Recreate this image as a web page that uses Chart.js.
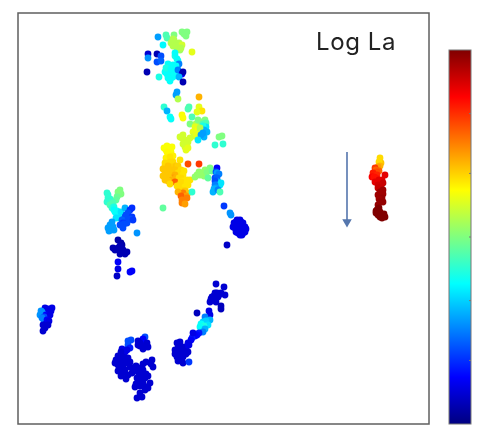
<!DOCTYPE html>
<html><head><meta charset="utf-8">
<style>
html,body{margin:0;padding:0;background:#fff;width:483px;height:432px;overflow:hidden}
#wrap{position:relative;width:483px;height:432px}
canvas{position:absolute;top:0}
#main{left:0}#bar{left:440px}
#label{position:absolute;left:316px;top:27px;font:24px Inter,Lato,sans-serif;color:#222;letter-spacing:.6px;line-height:30px}
</style>
<script src="https://cdn.jsdelivr.net/npm/chart.js@4"></script>
</head><body><div id="wrap">
<canvas id="main" width="483" height="432"></canvas>
<canvas id="bar" width="43" height="432"></canvas>
<div id="label">Log La</div>
</div>
<script>
// Each point: [x, y, log La]
const titleText = "Log La";
const topCluster = [[140,387,.28],[149,386,.45],[156,389,.5],[167,391,.5],[169,392,.5],[166,390,.5],[164,392,.5],[168,388,.5],[148,389,.45],[145,379,.37],[153,381,.55],[157,380,.55],[161,381,.55],[155,378,.55],[160,377,.57],[162,374,.53],[159,376,.55],[164,379,.58],[158,378,.55],[163,376,.55],[156,384,.55],[155,385,.55],[174,372,.6],[130,370,.08],[130,366,.27],[139,370,.05],[143,368,.2],[139,362,.2],[143,363,.22],[157,368,.4],[159,365,.38],[157,371,.38],[160,363,.38],[161,360,.25],[129,352,.05],[141,347,.4],[149,354,.38],[152,357,.38],[155,359,.38],[154,352,.38],[150,349,.38],[153,346,.38],[147,352,.38],[157,354,.38],[155,347,.38],[151,354,.38],[150,360,.38],[153,350,.38],[149,350,.38],[148,356,.4],[153,355,.38],[156,356,.38],[158,358,.38],[150,346,.38],[152,343,.38],[156,350,.38],[159,350,.38],[160,354,.25],[164,350,.12],[165,352,.05],[161,347,.3],[165,342,.05]];
const midCluster = [[159,332,.28],[158,329,.28],[160,325,.55],[181,327,.7],[146,317,.42],[149,313,.3],[152,307,.38],[153,305,.38],[171,317,.45],[170,315,.45],[181,317,.6],[184,313,.65],[179,312,.6],[164,309,.62],[165,306,.62],[174,307,.45],[172,300,.5],[178,300,.55],[181,300,.55],[184,302,.5],[187,304,.5],[180,304,.5],[185,300,.45],[188,301,.45],[188,297,.35],[185,298,.4],[186,294,.3],[189,292,.3],[186,287,.3],[177,297,.6],[175,292,.6],[180,294,.62],[182,296,.55],[182,292,.55],[176,288,.58],[178,290,.6],[185,291,.28],[183,289,.28],[180,284,.35],[201,287,.5],[197,279,.42],[205,280,.42],[204,288,.5],[165,289,.58],[167,284,.58],[164,286,.58],[162,287,.58],[172,286,.58],[169,279,.58],[170,282,.58],[167,277,.58],[165,280,.58],[167,280,.58],[168,274,.6],[170,276,.6],[149,278,.62],[154,277,.62],[151,276,.62],[146,276,.62],[148,274,.62],[150,270,.62],[153,272,.62]];
const yellowCluster = [[150,271,.63],[149,272,.63],[148,266,.64],[155,268,.64],[152,267,.65],[152,262,.66],[147,261,.66],[155,262,.66],[162,264,.65],[154,257,.67],[147,258,.66],[150,258,.68],[158,258,.68],[160,258,.67],[149,254,.68],[145,255,.68],[157,254,.68],[153,254,.68],[163,254,.66],[166,253,.65],[152,252,.68],[150,249,.68],[147,250,.68],[145,248,.68],[160,251,.66],[165,249,.65],[157,249,.7],[155,246,.72],[158,246,.7],[161,246,.66],[163,246,.66],[151,246,.68],[147,244,.68],[154,244,.7],[150,243,.68],[157,242,.78],[152,240,.66],[169,244,.65],[172,244,.65],[165,243,.65],[163,242,.66],[169,241,.65],[162,239,.66],[170,239,.65],[159,238,.66],[167,237,.65],[163,234,.66],[167,233,.68],[170,260,.8],[181,260,.82],[170,231,.68],[165,231,.75],[160,232,.7],[168,228,.72],[163,228,.78],[169,226,.75],[164,224,.75],[164,221,.75],[167,220,.72],[174,232,.42],[145,216,.47]];
const greenBlueCluster = [[179,249,.52],[177,247,.52],[181,252,.52],[184,251,.52],[186,248,.52],[187,254,.52],[189,252,.5],[192,256,.5],[194,253,.48],[182,249,.52],[190,246,.47],[199,256,.12],[198,252,.2],[199,251,.28],[201,250,.25],[197,246,.2],[199,246,.22],[200,242,.3],[197,243,.2],[199,239,.25],[203,241,.35],[202,239,.35],[197,239,.25],[198,236,.28],[196,235,.3],[195,232,.3],[200,234,.25],[202,232,.45],[206,218,.18],[212,211,.27],[213,209,.27]];
const darkBlob = [[219,204,.1],[222,204,.1],[218,202,.1],[221,201,.1],[223,202,.1],[225,201,.1],[216,201,.1],[217,199,.1],[220,199,.1],[224,199,.1],[215,197,.1],[219,197,.1],[222,197,.1],[225,197,.1],[227,197,.1],[217,196,.1],[226,195,.1],[228,195,.1],[220,194,.1],[224,194,.1],[218,192,.1],[222,192,.1],[227,192,.1],[220,191,.1],[225,191,.1],[222,189,.1],[224,189,.1],[209,179,.07]];
const leftCluster = [[89,231,.42],[102,234,.5],[100,232,.5],[103,230,.5],[100,229,.5],[99,227,.48],[90,226,.42],[92,225,.42],[90,229,.42],[89,222,.42],[98,224,.47],[94,222,.43],[92,219,.45],[95,221,.45],[94,216,.42],[96,217,.4],[96,214,.38],[97,212,.38],[99,213,.38],[100,209,.38],[98,206,.35],[101,206,.35],[103,212,.35],[107,216,.3],[114,216,.17],[112,214,.17],[110,211,.2],[108,209,.2],[107,207,.2],[111,207,.2],[114,207,.18],[108,205,.2],[112,205,.2],[104,204,.22],[110,204,.2],[115,204,.18],[109,201,.2],[105,201,.18],[106,200,.2],[102,199,.2],[105,196,.2],[92,199,.28],[94,202,.28],[95,197,.28],[90,196,.28],[96,194,.28],[93,194,.28],[91,193,.28],[119,191,.27],[100,184,.04],[103,181,.04],[104,179,.04],[102,178,.05],[95,176,.05],[100,176,.05],[97,174,.05],[103,175,.05],[105,174,.05],[102,173,.05],[106,172,.05],[109,172,.05],[107,170,.05],[102,170,.05],[100,162,.12],[100,155,.1],[99,148,.07],[112,152,.12],[114,153,.12]];
const lowerRightCluster = [[198,140,.08],[206,137,.08],[207,129,.08],[197,131,.08],[199,131,.08],[203,131,.08],[194,127,.08],[196,128,.08],[200,127,.08],[197,124,.08],[195,126,.08],[193,125,.08],[198,122,.08],[192,122,.08],[201,129,.08],[203,118,.06],[203,115,.06],[179,111,.06],[191,113,.1],[192,109,.1],[187,107,.25],[192,104,.3],[188,103,.33],[185,102,.33],[183,100,.38],[190,99,.35],[186,98,.4],[182,97,.38],[187,95,.3],[185,92,.25],[181,91,.15],[179,89,.13],[177,88,.12],[174,86,.15],[173,84,.12],[175,91,.1],[171,79,.1],[170,81,.1],[168,76,.1],[167,77,.1],[162,82,.08],[159,81,.08],[160,76,.08],[164,77,.08],[157,74,.08],[160,73,.08],[166,73,.08],[162,72,.08],[170,72,.08],[168,70,.08],[157,70,.08],[163,69,.08],[159,67,.08],[165,67,.08],[162,64,.08],[160,63,.08],[165,61,.08],[171,62,.18]];
const lowerLeftCluster = [[110,83,.2],[113,84,.2],[110,79,.2],[112,76,.15],[109,74,.1],[107,72,.1],[104,75,.1],[103,72,.08],[100,68,.08],[105,67,.08],[110,66,.08],[102,64,.08],[98,64,.08],[107,62,.08],[112,62,.08],[97,61,.08],[104,61,.08],[109,61,.08],[100,59,.08],[105,58,.08],[102,56,.08],[107,54,.08],[112,57,.08],[115,56,.08],[118,58,.08],[100,53,.08],[110,49,.08],[105,51,.08],[114,51,.08],[103,48,.08],[108,45,.08],[124,82,.08],[127,87,.2],[125,85,.12],[120,83,.08],[122,81,.08],[129,81,.08],[127,77,.08],[120,79,.08],[130,77,.08],[122,78,.08],[125,75,.08],[134,64,.08],[133,60,.08],[128,62,.08],[125,60,.08],[122,56,.08],[135,57,.08],[125,54,.08],[122,49,.08],[128,50,.08],[130,48,.08],[127,46,.08],[119,46,.08],[125,49,.08],[120,52,.08],[120,44,.08],[123,43,.08],[125,41,.08],[132,41,.08],[118,40,.08],[122,38,.08],[126,38,.08],[117,37,.08],[130,36,.08],[127,34,.08],[122,31,.08],[124,27,.08],[119,26,.08]];
const rightCluster = [[362,266,.66],[363,261,.68],[361,262,.66],[362,258,.7],[360,257,.72],[357,256,.82],[358,254,.78],[361,253,.78],[359,252,.8],[355,251,.85],[359,249,.84],[354,247,.88],[356,247,.86],[358,246,.86],[367,249,.9],[361,244,.9],[364,244,.9],[357,242,.9],[365,241,.93],[360,239,.92],[363,237,.93],[360,236,.93],[365,234,.97],[362,232,.97],[365,230,.97],[360,229,.97],[362,229,.97],[364,226,.98],[361,225,.97],[362,222,.98],[365,222,.98],[360,219,.98],[361,216,1],[359,214,1],[358,213,1],[362,212,1],[358,211,1],[366,210,1],[360,209,1],[363,209,1],[362,207,1],[367,207,1],[364,206,1]];
const farLeftCluster = [[27,116,.1],[34,116,.1],[30,115,.1],[28,113,.1],[31,112,.1],[33,113,.1],[23,113,.27],[24,112,.27],[25,110,.27],[22,109,.27],[28,109,.12],[32,109,.1],[26,107,.2],[24,106,.25],[26,103,.25],[29,104,.12],[31,103,.1],[28,100,.1],[25,99,.08],[30,99,.08],[27,96,.08],[25,93,.08]];
const arrowX = [329,329];
const arrowY = [272,202];
const axisRange = [0,411];
const colorbarStops = [0,.125,.375,.625,.875,1];
const colorbarColors = ["#000080","#0000ff","#00ffff","#ffff00","#ff0000","#800000"];
const colorbarTicks = [.17,.33,.5,.67,.83];

function jet(v){
  const c = t => Math.round(255*Math.max(0,Math.min(1,t)));
  return `rgb(${c(Math.min(4*v-1.5,-4*v+4.5))},${c(Math.min(4*v-.5,-4*v+3.5))},${c(Math.min(4*v+.5,-4*v+2.5))})`;
}
const clusters = [topCluster,midCluster,yellowCluster,greenBlueCluster,darkBlob,leftCluster,lowerRightCluster,lowerLeftCluster,rightCluster,farLeftCluster];
const points = clusters.flat();

const frame = {id:'frame',afterDraw(ch){
  const a=ch.chartArea,c=ch.ctx;
  c.save();c.strokeStyle='#5f5f5f';c.lineWidth=1.5;c.strokeRect(a.left,a.top,a.width,a.height);c.restore();
}};
new Chart(document.getElementById('main'),{
  type:'scatter',
  data:{datasets:[
    {data:points.map(p=>({x:p[0],y:p[1]})),backgroundColor:points.map(p=>jet(p[2])),borderWidth:0,pointRadius:3.4},
    {data:arrowX.map((x,i)=>({x,y:arrowY[i]})),showLine:true,borderColor:'#5576ad',borderWidth:1.6,backgroundColor:'#5576ad',pointBackgroundColor:'#5576ad',pointBorderWidth:0,pointRadius:[0,5.5],pointStyle:'triangle',pointRotation:180}
  ]},
  options:{responsive:false,animation:false,
    layout:{padding:{left:18,top:13,right:54,bottom:8}},
    plugins:{legend:{display:false},tooltip:{enabled:false}},
    scales:{x:{display:false,min:axisRange[0],max:axisRange[1]},y:{display:false,min:axisRange[0],max:axisRange[1]}}
  },plugins:[frame]
});
const barTicks = {id:'barTicks',afterDraw(ch){
  const a=ch.chartArea,c=ch.ctx,y=ch.scales.y;
  c.save();c.strokeStyle='#777';c.lineWidth=1;c.strokeRect(a.left,a.top,a.width,a.height);
  colorbarTicks.forEach(t=>{const p=y.getPixelForValue(t);c.beginPath();c.moveTo(a.right-2,p);c.lineTo(a.right,p);c.stroke();});
  c.restore();
}};
new Chart(document.getElementById('bar'),{
  type:'bar',
  data:{labels:[titleText],datasets:[{data:[1],barPercentage:1,categoryPercentage:1,borderWidth:0,
    backgroundColor(ctx){
      const a=ctx.chart.chartArea;if(!a)return '#000080';
      const g=ctx.chart.ctx.createLinearGradient(0,a.bottom,0,a.top);
      colorbarStops.forEach((s,i)=>g.addColorStop(s,colorbarColors[i]));
      return g;
    }}]},
  options:{responsive:false,animation:false,
    layout:{padding:{left:9,right:12,top:50,bottom:8}},
    plugins:{legend:{display:false},tooltip:{enabled:false}},
    scales:{x:{display:false},y:{display:false,min:0,max:1}}
  },plugins:[barTicks]
});
</script></body></html>
